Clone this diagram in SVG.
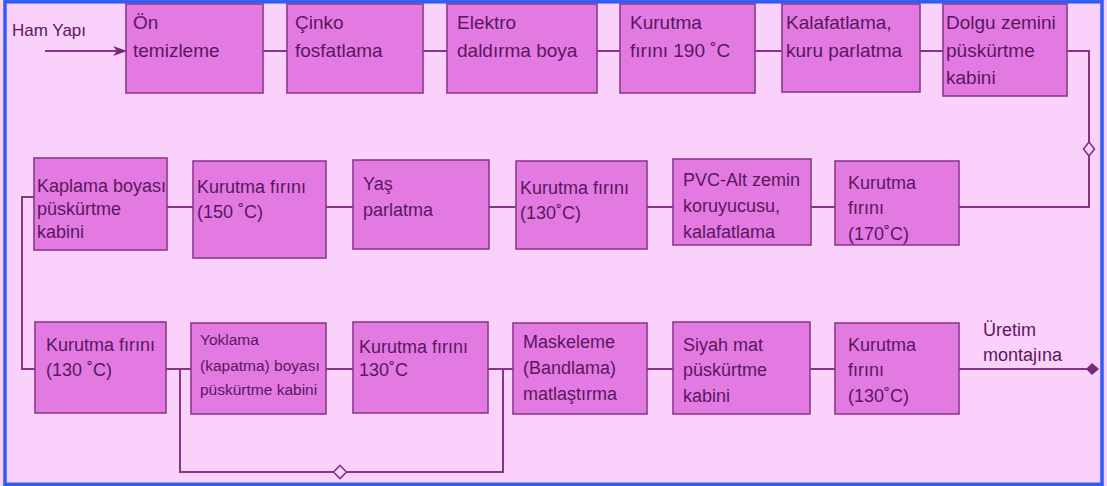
<svg xmlns="http://www.w3.org/2000/svg" width="1107" height="486" viewBox="0 0 1107 486">
<defs>
<style>
.bg{fill:#fad1fa}
.frame{fill:none;stroke:#2f5cf5;stroke-width:3.5}
.box{fill:#e27ae2;stroke:#8c3a8c;stroke-width:1.6}
.t{font-family:"Liberation Sans",Arial,sans-serif;font-size:18px;fill:#5a1760}
.tt{font-size:19px}
.ts{font-size:15.5px}
.ln{fill:none;stroke:#863486;stroke-width:2}
.dia{fill:#fad1fa;stroke:#863486;stroke-width:1.6}
</style>
<marker id="arrIn" viewBox="0 0 14 12" refX="13" refY="6" markerWidth="14" markerHeight="12" markerUnits="userSpaceOnUse" orient="auto">
<path d="M0,1 L14,6 L0,11 L4,6 z" fill="#7a2a7a"/>
</marker>
<marker id="arrOut" viewBox="0 0 14 14" refX="13" refY="7" markerWidth="14" markerHeight="14" markerUnits="userSpaceOnUse" orient="auto">
<path d="M1,7 L7,1 L14,7 L7,13 z" fill="#7a2a7a"/>
</marker>
</defs>
<rect class="bg" x="0" y="0" width="1107" height="486"/>
<rect class="frame" x="5" y="1.8" width="1097" height="482.5"/>

<g id="connectors">
<path class="ln" d="M45,51 L126,51" marker-end="url(#arrIn)"/>
<path class="ln" d="M263,51 L287,51 M423,51 L447,51 M597,51 L620,51 M755,51 L782,51 M920,51 L943,51"/>
<path class="ln" d="M1067,51 L1089,51 L1089,207 L959,207"/>
<polygon class="dia" points="1089,142 1094.5,149 1089,156 1083.5,149"/>
<path class="ln" d="M167,207 L193,207 M326,207 L353,207 M489,207 L516,207 M647,207 L673,207 M811,207 L835,207"/>
<path class="ln" d="M34,197 L22,197 L22,369 L35,369"/>
<path class="ln" d="M166,369 L191,369 M326,369 L353,369 M488,369 L513,369 M647,369 L673,369 M810,369 L835,369"/>
<path class="ln" d="M180,369 L180,472 L503,472 L503,369"/>
<polygon class="dia" points="340,465.5 346.5,472 340,478.5 333.5,472"/>
<path class="ln" d="M959,369 L1098,369" marker-end="url(#arrOut)"/>
</g>

<g id="label-ham-yapi"><text class="t" x="12" y="36" style="font-size:17px">Ham Yapı</text></g>
<g id="label-uretim"><text class="t" x="983" y="336">Üretim</text><text class="t" x="983" y="361">montajına</text></g>

<g id="n1"><rect class="box" x="126" y="4" width="137" height="89"/><text class="t tt" x="133" y="29">Ön</text><text class="t tt" x="133" y="57">temizleme</text></g>
<g id="n2"><rect class="box" x="287" y="4" width="136" height="89"/><text class="t tt" x="295" y="29">Çinko</text><text class="t tt" x="295" y="57">fosfatlama</text></g>
<g id="n3"><rect class="box" x="447" y="4" width="150" height="89"/><text class="t tt" x="457" y="29">Elektro</text><text class="t tt" x="457" y="57">daldırma boya</text></g>
<g id="n4"><rect class="box" x="620" y="4" width="135" height="89"/><text class="t tt" x="630" y="29">Kurutma</text><text class="t tt" x="630" y="57">fırını 190 ˚C</text></g>
<g id="n5"><rect class="box" x="782" y="4" width="138" height="88"/><text class="t tt" x="786" y="29">Kalafatlama,</text><text class="t tt" x="786" y="57">kuru parlatma</text></g>
<g id="n6"><rect class="box" x="943" y="4" width="124" height="92"/><text class="t tt" x="946" y="29">Dolgu zemini</text><text class="t tt" x="946" y="57">püskürtme</text><text class="t tt" x="946" y="84">kabini</text></g>

<g id="m1"><rect class="box" x="34" y="158" width="133" height="92"/><text class="t" x="37" y="192">Kaplama boyası</text><text class="t" x="37" y="215">püskürtme</text><text class="t" x="37" y="238">kabini</text></g>
<g id="m2"><rect class="box" x="193" y="161" width="133" height="97"/><text class="t" x="197" y="193">Kurutma fırını</text><text class="t" x="197" y="218">(150 ˚C)</text></g>
<g id="m3"><rect class="box" x="353" y="160" width="136" height="89"/><text class="t" x="363" y="190">Yaş</text><text class="t" x="363" y="216">parlatma</text></g>
<g id="m4"><rect class="box" x="516" y="161" width="131" height="88"/><text class="t" x="520" y="194">Kurutma fırını</text><text class="t" x="520" y="219">(130˚C)</text></g>
<g id="m5"><rect class="box" x="673" y="159" width="138" height="86"/><text class="t" x="683" y="186">PVC-Alt zemin</text><text class="t" x="683" y="212">koruyucusu,</text><text class="t" x="683" y="238">kalafatlama</text></g>
<g id="m6"><rect class="box" x="835" y="161" width="124" height="84"/><text class="t" x="848" y="189">Kurutma</text><text class="t" x="848" y="214">fırını</text><text class="t" x="848" y="240">(170˚C)</text></g>

<g id="b1"><rect class="box" x="35" y="322" width="131" height="91"/><text class="t" x="46" y="351">Kurutma fırını</text><text class="t" x="46" y="376">(130 ˚C)</text></g>
<g id="b2"><rect class="box" x="191" y="323" width="135" height="91"/><text class="t ts" x="200" y="345">Yoklama</text><text class="t ts" x="200" y="371">(kapatma) boyası</text><text class="t ts" x="200" y="395">püskürtme kabini</text></g>
<g id="b3"><rect class="box" x="353" y="322" width="135" height="91"/><text class="t" x="359" y="353">Kurutma fırını</text><text class="t" x="359" y="376">130˚C</text></g>
<g id="b4"><rect class="box" x="513" y="323" width="134" height="91"/><text class="t" x="523" y="348">Maskeleme</text><text class="t" x="523" y="374">(Bandlama)</text><text class="t" x="523" y="400">matlaştırma</text></g>
<g id="b5"><rect class="box" x="673" y="322" width="137" height="92"/><text class="t" x="683" y="351">Siyah mat</text><text class="t" x="683" y="376">püskürtme</text><text class="t" x="683" y="402">kabini</text></g>
<g id="b6"><rect class="box" x="835" y="323" width="124" height="91"/><text class="t" x="848" y="351">Kurutma</text><text class="t" x="848" y="376">fırını</text><text class="t" x="848" y="402">(130˚C)</text></g>
</svg>
